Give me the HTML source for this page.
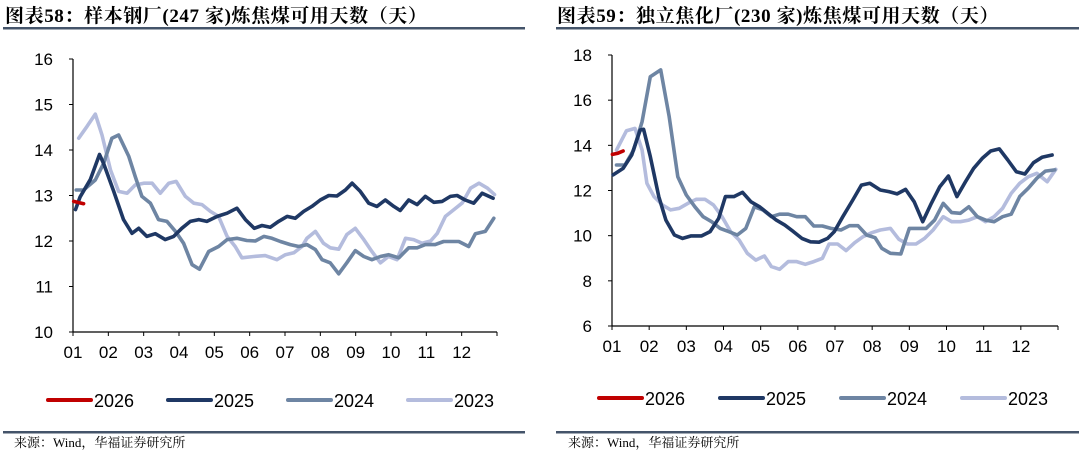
<!DOCTYPE html>
<html><head><meta charset="utf-8"><style>
body{margin:0;background:#fff;width:1079px;height:451px;overflow:hidden;font-family:"Liberation Sans",Arial,sans-serif}
svg text{font-family:"Liberation Sans","Noto Sans CJK SC",sans-serif}
.t{font-family:"Liberation Serif","Noto Serif CJK SC",serif;font-weight:bold;font-size:19px;fill:#000;letter-spacing:0.6px}
.s{font-family:"Liberation Serif","Noto Serif CJK SC",serif;font-size:13px;fill:#000}
</style></head><body>
<svg id="c" width="1079" height="451">
<text class="t" x="5" y="22">图表58：样本钢厂(247 家)炼焦煤可用天数（天）</text>
<text class="t" x="557" y="22">图表59：独立焦化厂(230 家)炼焦煤可用天数（天）</text>
<rect x="3" y="27" width="522" height="2.5" fill="#44546a"/>
<rect x="556" y="27" width="523" height="2.5" fill="#44546a"/>
<rect x="3" y="431" width="522" height="2.5" fill="#44546a"/>
<rect x="556" y="431" width="523" height="2.5" fill="#44546a"/>
<text class="s" x="14" y="447">来源：Wind，华福证券研究所</text>
<text class="s" x="568" y="447">来源：Wind，华福证券研究所</text>
</svg>
<script>
const monthLabels=["01","02","03","04","05","06","07","08","09","10","11","12"];
const seriesNames=["2026","2025","2024","2023"];
const colors=["#c00000","#1f3864","#6e85a3","#b4bcdd"];
// Left chart data: [month position, value]
const L2026=[[1.02,12.87],[1.3,12.82]];
const L2025=[[1.07,12.69],[1.2,12.97],[1.49,13.35],[1.75,13.9],[1.87,13.7],[2.15,13.1],[2.43,12.47],[2.67,12.17],[2.86,12.28],[3.09,12.1],[3.33,12.16],[3.61,12.03],[3.85,12.1],[4.08,12.28],[4.32,12.43],[4.56,12.47],[4.79,12.43],[5.08,12.54],[5.36,12.61],[5.64,12.72],[5.88,12.47],[6.13,12.28],[6.35,12.34],[6.58,12.3],[6.82,12.43],[7.06,12.54],[7.29,12.5],[7.53,12.65],[7.76,12.76],[8.0,12.9],[8.24,13.0],[8.47,12.99],[8.71,13.12],[8.9,13.27],[9.13,13.09],[9.37,12.83],[9.6,12.76],[9.84,12.9],[10.08,12.76],[10.26,12.67],[10.5,12.9],[10.74,12.8],[10.97,12.98],[11.21,12.85],[11.45,12.87],[11.68,12.98],[11.87,13.0],[12.1,12.9],[12.34,12.83],[12.58,13.05],[12.89,12.94]];
const L2024=[[1.09,13.12],[1.3,13.12],[1.63,13.34],[1.87,13.71],[2.1,14.26],[2.29,14.33],[2.58,13.86],[2.76,13.42],[2.95,12.98],[3.19,12.83],[3.42,12.47],[3.66,12.43],[3.9,12.21],[4.13,11.95],[4.37,11.48],[4.58,11.38],[4.84,11.77],[5.12,11.88],[5.36,12.03],[5.64,12.06],[5.92,12.01],[6.16,12.0],[6.4,12.1],[6.63,12.06],[6.87,11.99],[7.15,11.92],[7.39,11.88],[7.62,11.92],[7.86,11.81],[8.05,11.59],[8.28,11.52],[8.52,11.28],[8.75,11.52],[8.99,11.79],[9.23,11.66],[9.46,11.59],[9.7,11.66],[9.93,11.7],[10.22,11.63],[10.5,11.85],[10.74,11.85],[10.97,11.92],[11.25,11.92],[11.49,11.99],[11.92,11.99],[12.2,11.88],[12.39,12.16],[12.67,12.21],[12.91,12.5]];
const L2023=[[1.16,14.26],[1.4,14.52],[1.63,14.79],[1.82,14.33],[2.06,13.56],[2.29,13.09],[2.53,13.05],[2.76,13.23],[3.0,13.27],[3.24,13.27],[3.47,13.05],[3.71,13.27],[3.92,13.31],[4.18,12.98],[4.42,12.83],[4.65,12.8],[4.89,12.65],[5.12,12.54],[5.36,12.1],[5.59,11.88],[5.78,11.63],[6.11,11.66],[6.44,11.68],[6.77,11.59],[7.01,11.7],[7.25,11.74],[7.48,11.88],[7.62,12.06],[7.86,12.21],[8.09,11.95],[8.28,11.85],[8.52,11.82],[8.75,12.14],[8.99,12.28],[9.23,12.03],[9.46,11.77],[9.7,11.52],[9.93,11.66],[10.17,11.59],[10.41,12.06],[10.64,12.03],[10.88,11.95],[11.12,12.0],[11.31,12.17],[11.54,12.54],[11.78,12.69],[12.02,12.84],[12.25,13.16],[12.49,13.27],[12.73,13.16],[12.93,13.02]];
// Right chart data
const R2026=[[1.01,13.6],[1.16,13.65],[1.3,13.75]];
const R2025=[[1.03,12.69],[1.3,12.98],[1.53,13.57],[1.76,14.68],[1.85,14.71],[2.03,13.5],[2.26,11.73],[2.45,10.69],[2.68,10.03],[2.9,9.88],[3.13,9.99],[3.41,9.99],[3.64,10.18],[3.87,10.77],[4.05,11.73],[4.28,11.73],[4.51,11.92],[4.74,11.5],[4.97,11.28],[5.19,10.99],[5.42,10.69],[5.65,10.47],[5.88,10.18],[6.11,9.88],[6.34,9.73],[6.57,9.71],[6.8,9.88],[6.98,10.18],[7.21,10.84],[7.48,11.58],[7.71,12.24],[7.94,12.32],[8.22,12.02],[8.45,11.95],[8.67,11.85],[8.9,12.05],[9.13,11.5],[9.36,10.62],[9.59,11.43],[9.82,12.17],[10.05,12.64],[10.28,11.73],[10.51,12.39],[10.73,12.98],[10.96,13.42],[11.19,13.75],[11.42,13.84],[11.65,13.35],[11.88,12.83],[12.11,12.73],[12.34,13.23],[12.57,13.47],[12.84,13.57]];
const R2024=[[1.12,13.13],[1.35,13.13],[1.58,13.79],[1.81,15.05],[2.03,17.04],[2.31,17.34],[2.54,15.27],[2.77,12.61],[3.0,11.8],[3.23,11.28],[3.45,10.84],[3.68,10.62],[3.91,10.32],[4.14,10.18],[4.37,10.03],[4.6,10.32],[4.83,11.28],[5.06,11.14],[5.29,10.84],[5.51,10.95],[5.74,10.95],[5.97,10.84],[6.2,10.84],[6.43,10.43],[6.66,10.43],[6.89,10.32],[7.16,10.25],[7.39,10.44],[7.62,10.44],[7.85,10.03],[8.08,9.91],[8.26,9.44],[8.49,9.22],[8.77,9.19],[9.0,10.32],[9.22,10.32],[9.45,10.32],[9.68,10.69],[9.91,11.43],[10.14,11.02],[10.37,10.99],[10.6,11.28],[10.83,10.84],[11.05,10.69],[11.28,10.62],[11.51,10.84],[11.74,10.95],[11.97,11.73],[12.2,12.1],[12.43,12.54],[12.66,12.86],[12.91,12.91]];
const R2023=[[1.12,13.79],[1.39,14.65],[1.62,14.75],[1.81,13.79],[1.94,12.32],[2.13,11.73],[2.36,11.36],[2.58,11.14],[2.81,11.21],[3.04,11.43],[3.27,11.61],[3.5,11.61],[3.73,11.36],[3.96,10.84],[4.19,10.18],[4.42,9.81],[4.64,9.22],[4.87,8.92],[5.1,9.1],[5.29,8.63],[5.51,8.51],[5.74,8.85],[5.97,8.85],[6.2,8.73],[6.43,8.85],[6.66,9.0],[6.84,9.63],[7.07,9.63],[7.3,9.34],[7.53,9.69],[7.76,9.96],[7.99,10.13],[8.22,10.25],[8.49,10.32],[8.72,9.84],[8.95,9.63],[9.18,9.63],[9.41,9.88],[9.64,10.25],[9.91,10.84],[10.14,10.62],[10.37,10.62],[10.6,10.69],[10.83,10.84],[11.05,10.62],[11.28,10.84],[11.51,11.21],[11.74,11.87],[11.97,12.32],[12.2,12.61],[12.43,12.76],[12.71,12.39],[12.94,12.94]];
const leftTicks=[10,11,12,13,14,15,16];
const rightTicks=[6,8,10,12,14,16,18];

const svg=document.getElementById('c');
const NS='http://www.w3.org/2000/svg';
function mk(tag,attrs,parent){const e=document.createElementNS(NS,tag);for(const k in attrs)e.setAttribute(k,attrs[k]);(parent||svg).appendChild(e);return e;}

function chart(p,key,ticks,series){
  const g=mk('g',{});
  
  
  const ymin=ticks[0],ymax=ticks[ticks.length-1];
  const X=m=>p.x0+(m-1)*(p.x1-p.x0)/12;
  const Y=v=>p.yb-(v-ymin)*(p.yb-p.yt)/(ymax-ymin);
  const ax=mk('line',{x1:p.x0,y1:p.yt,x2:p.x0,y2:p.yb,stroke:'#000','stroke-width':1.2},g);
  
  
  const bx=mk('line',{x1:p.x0,y1:p.yb,x2:p.x1,y2:p.yb,stroke:'#000','stroke-width':1.2},g);
  
  
  ticks.forEach(t=>{
    mk('line',{x1:p.x0-4,y1:Y(t),x2:p.x0,y2:Y(t),stroke:'#000'},g);
    const tx=mk('text',{x:p.x0-20,y:Y(t)+6,'text-anchor':'end','font-size':17,fill:'#000'},g);
    tx.textContent=t;
    
    
  });
  for(let i=0;i<=12;i++) mk('line',{x1:X(i+1),y1:p.yb,x2:X(i+1),y2:p.yb+4,stroke:'#000'},g);
  monthLabels.forEach((l,i)=>{
    const tx=mk('text',{x:X(i+1),y:p.yb+26,'text-anchor':'middle','font-size':17,fill:'#000'},g);
    tx.textContent=l;
    
    
  });
  [3,2,1,0].forEach(si=>{
    const pts=series[si].map(d=>X(d[0]).toFixed(1)+','+Y(d[1]).toFixed(1)).join(' ');
    const pl=mk('polyline',{points:pts,fill:'none',stroke:colors[si],'stroke-width':3.6,'stroke-linejoin':'round','stroke-linecap':'round'},g);
    
    
  });
  seriesNames.forEach((n,i)=>{
    const lx=p.leg[i];
    const ln=mk('line',{x1:lx,y1:p.ly,x2:lx+43,y2:p.ly,stroke:colors[i],'stroke-width':4,'stroke-linecap':'round'},g);
    
    
    const tx=mk('text',{x:lx+46,y:p.ly+7,'font-size':18,fill:'#000'},g);
    tx.textContent=n;
    
    
  });
}
chart({x0:73,x1:497,yt:59,yb:332,ly:400,leg:[48,168,288,408]},'left',leftTicks,[L2026,L2025,L2024,L2023]);
chart({x0:612,x1:1058,yt:55,yb:326,ly:398,leg:[599,720,841,962]},'right',rightTicks,[R2026,R2025,R2024,R2023]);
</script>
</body></html>
